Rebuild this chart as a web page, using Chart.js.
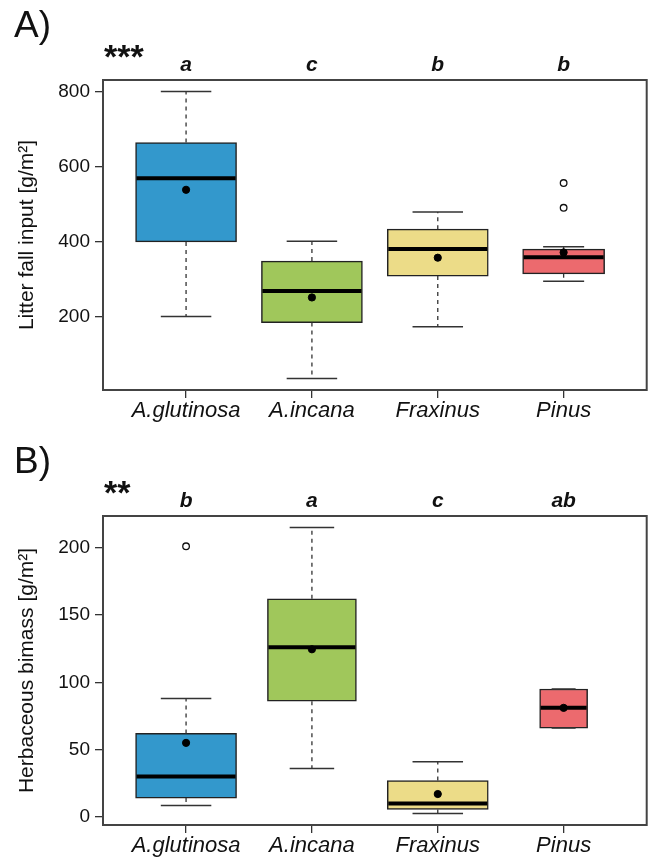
<!DOCTYPE html>
<html>
<head>
<meta charset="utf-8">
<script src="https://cdn.jsdelivr.net/npm/chart.js@4.4.0/dist/chart.umd.min.js"></script>
<style>
  body { margin: 0; background: #fff; }
  .panel { position: absolute; left: 0; width: 652px; }
  #panelA { top: 0; height: 436px; }
  #panelB { top: 436px; height: 425px; }
</style>
</head>
<body>
<div class="panel" id="panelA"><canvas id="chartA"></canvas></div>
<div class="panel" id="panelB"><canvas id="chartB"></canvas></div>
<script>
const species = ['A.glutinosa', 'A.incana', 'Fraxinus', 'Pinus'];
const boxColors = ['#3398cc', '#a0c75b', '#ecdc88', '#ec6a6e'];

// A) litter fall input [g/m2]
const litterLow = [200, 35, 173, 294];
const litterQ1 = [399, 184, 308, 314];
const litterMedian = [569, 268, 380, 358];
const litterQ3 = [664, 348, 433, 380];
const litterHigh = [800, 401, 479, 386];
const litterMean = [538, 251, 357, 371];
const litterOutliers = [[], [], [], [556, 490]];
const litterLetters = ['a', 'c', 'b', 'b'];
const litterTicks = [200, 400, 600, 800];

// B) herbaceous biomass [g/m2]
const herbLow = [8.5, 36, 2.5, 66];
const herbQ1 = [14, 86, 5.5, 66];
const herbMedian = [30, 126, 10, 81];
const herbQ3 = [62, 162, 27, 95];
const herbHigh = [88, 215, 41, 95];
const herbMean = [55, 124.5, 17, 81];
const herbOutliers = [[201], [], [], []];
const herbLetters = ['b', 'a', 'c', 'ab'];
const herbTicks = [0, 50, 100, 150, 200];

// box widths in px (varwidth in the original)
const widthsA = [101, 101, 101, 82];
const widthsB = [101, 89, 101, 48];

const FONT = "'Liberation Sans', Arial, sans-serif";

// whiskers, caps and medians drawn right after each box
const boxExtras = {
    id: 'boxExtras',
    afterDatasetDraw(chart, args) {
        const ds = chart.data.datasets[args.index];
        if (!ds.stats) return;
        const bar = args.meta.data[0];
        const { x, width } = bar.getProps(['x', 'width'], true);
        const y = chart.scales.y;
        const s = ds.stats;
        const ctx = chart.ctx;
        const cap = width / 4;
        ctx.save();
        ctx.strokeStyle = '#333';
        ctx.lineWidth = 1.3;
        ctx.setLineDash([4, 4]);
        ctx.beginPath();
        ctx.moveTo(x, y.getPixelForValue(s.q3));
        ctx.lineTo(x, y.getPixelForValue(s.high));
        ctx.moveTo(x, y.getPixelForValue(s.q1));
        ctx.lineTo(x, y.getPixelForValue(s.low));
        ctx.stroke();
        ctx.setLineDash([]);
        ctx.lineWidth = 1.5;
        ctx.beginPath();
        ctx.moveTo(x - cap, y.getPixelForValue(s.high));
        ctx.lineTo(x + cap, y.getPixelForValue(s.high));
        ctx.moveTo(x - cap, y.getPixelForValue(s.low));
        ctx.lineTo(x + cap, y.getPixelForValue(s.low));
        ctx.stroke();
        ctx.strokeStyle = '#000';
        ctx.lineWidth = 4;
        ctx.beginPath();
        const ym = y.getPixelForValue(s.median);
        ctx.moveTo(x - width / 2 + 1, ym);
        ctx.lineTo(x + width / 2 - 1, ym);
        ctx.stroke();
        ctx.restore();
    }
};

const frameAndText = {
    id: 'frameAndText',
    afterDraw(chart, args, opts) {
        const { ctx, chartArea: a } = chart;
        ctx.save();
        ctx.strokeStyle = '#444';
        ctx.lineWidth = 2;
        ctx.strokeRect(a.left, a.top, a.right - a.left, a.bottom - a.top);
        ctx.fillStyle = '#111';
        ctx.textBaseline = 'alphabetic';
        ctx.font = '37px ' + FONT;
        ctx.fillText(opts.label, 14, 37);
        ctx.font = 'bold 34px ' + FONT;
        ctx.fillText(opts.stars, 104, 68);
        ctx.restore();
    }
};

function makeChart(id, cfg) {
    const n = species.length;
    const xPad = n * 0.04;
    const all = cfg.low.concat(cfg.high, cfg.outliers.flat());
    const lo = Math.min(...all), hi = Math.max(...all);
    const yPad = (hi - lo) * 0.04;

    const datasets = species.map((name, i) => ({
        type: 'bar',
        label: name,
        data: [{ x: i + 1, y: [cfg.q1[i], cfg.q3[i]] }],
        stats: { low: cfg.low[i], q1: cfg.q1[i], median: cfg.median[i], q3: cfg.q3[i], high: cfg.high[i] },
        backgroundColor: boxColors[i],
        borderColor: '#222',
        borderWidth: 1.5,
        borderSkipped: false,
        barThickness: cfg.widths[i],
        grouped: false,
        order: 2
    }));
    datasets.push({
        type: 'line',
        label: 'mean',
        data: cfg.mean.map((m, i) => ({ x: i + 1, y: m })),
        showLine: false,
        pointRadius: 3.6,
        pointBackgroundColor: '#000',
        pointBorderColor: '#000',
        order: 0
    });
    const outPts = [];
    cfg.outliers.forEach((list, i) => list.forEach(v => outPts.push({ x: i + 1, y: v })));
    datasets.push({
        type: 'line',
        label: 'outliers',
        data: outPts,
        showLine: false,
        pointRadius: 3.3,
        pointBorderWidth: 1.3,
        pointBackgroundColor: '#fff',
        pointBorderColor: '#111',
        order: 1
    });

    const catTicks = s => { s.ticks = species.map((_, i) => ({ value: i + 1 })); };

    return new Chart(document.getElementById(id), {
        type: 'bar',
        data: { datasets },
        plugins: [boxExtras, frameAndText],
        options: {
            responsive: true,
            maintainAspectRatio: false,
            animation: false,
            events: [],
            layout: { padding: { left: 0, right: 4, top: 0, bottom: 0 } },
            plugins: {
                legend: { display: false },
                tooltip: { enabled: false },
                frameAndText: { label: cfg.label, stars: cfg.stars }
            },
            scales: {
                x: {
                    type: 'linear',
                    position: 'bottom',
                    offset: false,
                    min: 0.5 - xPad,
                    max: n + 0.5 + xPad,
                    afterBuildTicks: catTicks,
                    afterFit: s => { s.height = cfg.bottomHeight; },
                    ticks: {
                        callback: v => species[v - 1],
                        font: { family: FONT, size: 22, style: 'italic' },
                        color: '#111',
                        padding: 0,
                        maxRotation: 0,
                        autoSkip: false
                    },
                    grid: { offset: false, drawOnChartArea: false, tickLength: 8, color: '#333', lineWidth: 1.3 },
                    border: { display: false }
                },
                xTop: {
                    type: 'linear',
                    position: 'top',
                    offset: false,
                    min: 0.5 - xPad,
                    max: n + 0.5 + xPad,
                    afterBuildTicks: catTicks,
                    afterFit: s => { s.height = 80; },
                    ticks: {
                        callback: v => cfg.letters[v - 1],
                        font: { family: FONT, size: 21, style: 'italic', weight: 'bold' },
                        color: '#111',
                        padding: -6,
                        maxRotation: 0,
                        autoSkip: false
                    },
                    grid: { display: false, offset: false },
                    border: { display: false }
                },
                y: {
                    min: lo - yPad,
                    max: hi + yPad,
                    afterBuildTicks: s => { s.ticks = cfg.ticks.map(v => ({ value: v })); },
                    afterFit: s => { s.width = 103; },
                    ticks: {
                        font: { family: FONT, size: 19 },
                        color: '#111',
                        padding: 5
                    },
                    grid: { drawOnChartArea: false, tickLength: 8, color: '#333', lineWidth: 1.3 },
                    border: { display: false },
                    title: {
                        display: true,
                        text: cfg.yTitle,
                        font: { family: FONT, size: 21 },
                        color: '#111',
                        padding: { top: 15, bottom: 0 }
                    }
                }
            }
        }
    });
}

makeChart('chartA', {
    low: litterLow, q1: litterQ1, median: litterMedian, q3: litterQ3, high: litterHigh,
    mean: litterMean, outliers: litterOutliers, letters: litterLetters, ticks: litterTicks,
    widths: widthsA, yTitle: 'Litter fall input [g/m²]', label: 'A)', stars: '***',
    bottomHeight: 46
});

makeChart('chartB', {
    low: herbLow, q1: herbQ1, median: herbMedian, q3: herbQ3, high: herbHigh,
    mean: herbMean, outliers: herbOutliers, letters: herbLetters, ticks: herbTicks,
    widths: widthsB, yTitle: 'Herbaceous bimass [g/m²]', label: 'B)', stars: '**',
    bottomHeight: 36
});
</script>
</body>
</html>
